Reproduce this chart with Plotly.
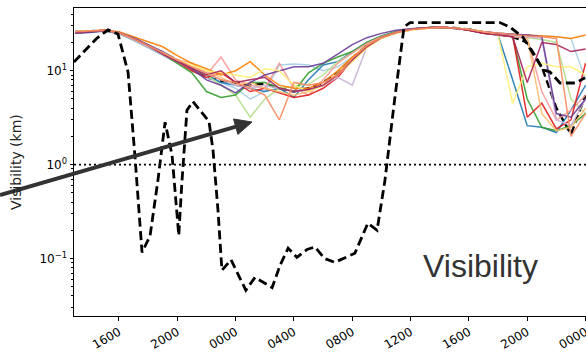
import plotly.graph_objects as go

# ---------------- data ----------------
hours = list(range(1, 37))  # hours since 12:00 on day 1

tick_hours = [4, 8, 12, 16, 20, 24, 28, 32, 36]
tick_labels = ['1600', '2000', '0000', '0400', '0800', '1200', '1600', '2000', '0000']

obs_hours = [0.91, 1.7, 2.5, 3.25, 3.93, 4.62, 5.1, 5.58, 6.13, 6.67, 7.16, 7.64, 8.1, 8.3,
             8.66, 9.07, 9.76, 10.17, 10.45, 10.79, 11.06, 11.68, 12.7, 13.33, 14.5, 15.05,
             15.6, 16.2, 16.9, 17.44, 18.1, 18.8, 20.18, 21.07, 21.7, 22.24, 22.9, 23.55,
             23.96, 30.13, 30.8, 31.7, 33.1, 33.56, 34.25, 35.3, 35.96]
obs_vis = [12.4, 16.6, 22.3, 27.2, 24.6, 9.7, 1.2, 0.116, 0.174, 0.68, 2.83, 1.26, 0.176, 0.6,
           3.8, 4.7, 3.53, 2.9, 1.42, 0.326, 0.075, 0.097, 0.046, 0.063, 0.049, 0.085,
           0.129, 0.103, 0.125, 0.133, 0.1, 0.091, 0.114, 0.238, 0.2, 0.68, 4.87, 29.2,
           32.6, 32.6, 29.2, 22.8, 10.2, 9.7, 7.4, 7.4, 8.4]

ens_mean = [25.8, 26.2, 26.8, 25.3, 22, 18.5, 15.5, 13, 10.5, 8.5, 7.8, 7.5, 7, 7.3, 6.5, 6,
            6.5, 7.5, 9.5, 13.5, 18.5, 22.5, 25.5, 27.5, 28.5, 29, 28.5, 27.5, 25.5, 24.5,
            23, 20, 11, 4, 2.1, 5.5]

member_light_blue = [25.5, 26, 26.5, 24.5, 21, 17.5, 14.5, 12, 10, 8.5, 7.5, 6.5, 5.0, 6.0, 11.5, 11.8,
                     11.5, 10, 11, 14, 18.5, 22.5, 25.5, 27.5, 28.5, 29, 28.5, 27.5, 26, 25,
                     24.5, 24, 23.5, 23, 22, 8]
member_blue = [25, 26, 27, 25, 21.5, 18, 15, 12.5, 10.5, 9, 7.5, 7, 6.5, 6, 6.5, 5.2,
               8, 11.5, 12.5, 16, 20, 23.5, 26, 27.5, 28.5, 29, 28.5, 27, 25, 24,
               8, 2.6, 2.5, 2.2, 3.8, 7]
member_light_green = [25.5, 26, 26.5, 25, 21.5, 18, 15, 12.5, 10.5, 9, 7, 5.5, 3.2, 5, 6.5, 6.8,
                      7.2, 9, 12.5, 15.5, 19.5, 23, 26, 28, 28.5, 29, 28.5, 27.5, 25.5, 24.5,
                      23.5, 22.5, 21.5, 20, 5, 3.5]
member_green = [25, 26, 26.5, 25, 21.5, 18, 15, 12, 9.5, 6.0, 5.2, 5.5, 7.5, 7.5, 6.5, 6.0,
                9.5, 12, 14, 16, 20, 23.5, 26, 27.5, 28.5, 29, 28.5, 27.5, 26, 24.5,
                23, 5, 2.5, 2.3, 2.6, 3.5]
member_pink = [26, 26.5, 27, 25, 21.5, 18, 15.5, 13, 12, 9, 14, 8, 7, 6.5, 12, 6.5,
               5.5, 8, 12, 15.5, 19.5, 23, 25.5, 27.5, 28.5, 29, 28.5, 27, 25, 24,
               23, 22, 6, 3.0, 3.8, 5.5]
member_red = [25.5, 26, 27, 25.5, 22, 18.5, 15, 12.5, 10, 8.5, 9.5, 7.5, 6, 6.5, 5.8, 5.2,
              5.5, 6.5, 8.5, 13, 18, 22.5, 25.5, 27.5, 28.5, 29, 28.5, 27, 25, 24.5,
              23.5, 3.2, 4.5, 2.4, 3, 12]
member_light_orange = [26, 26.5, 27, 25.5, 22, 18.5, 15.5, 13, 11, 10, 8.5, 7, 7.5, 6.5, 6, 5.5,
                       6, 7, 9.5, 13.5, 18.5, 22.5, 25.5, 27.5, 28.5, 29, 28.5, 27.5, 26, 25,
                       24, 23, 3.5, 2.3, 2.5, 4]
member_orange = [26, 26.5, 27, 26, 23, 20, 18, 14.5, 12, 10.5, 9, 10, 12.5, 9, 7, 6.5,
                 6.5, 7.5, 10, 14, 18.5, 22.5, 25.5, 27.5, 28.5, 29, 28.5, 27.5, 26, 25,
                 24.5, 24, 23.5, 23, 22, 24]
member_light_purple = [25.5, 26, 26.5, 25, 21.5, 18, 15, 12.5, 10.5, 9.5, 8, 7, 6.5, 7, 6.5, 6,
                       6.2, 7, 8.5, 7, 18, 22.5, 25.5, 27.5, 28.5, 29, 28.5, 27.5, 26, 25,
                       24, 23, 22, 3, 2.6, 5]
member_purple = [25, 25.5, 26.5, 25.5, 22.5, 19, 16, 13, 10.5, 8, 7, 5.8, 7.5, 9, 10, 11,
                 11, 12, 15, 19, 22.5, 25, 27, 28, 28.5, 29, 28.5, 27.5, 26, 25,
                 24.5, 24, 23, 3.5, 3.2, 5]
member_yellow = [26, 26.5, 27, 25.5, 22, 18.5, 15.5, 13, 11.5, 10, 9.5, 9, 8.5, 10.5, 10, 7,
                 6, 7, 9, 12.5, 17.5, 22, 25, 27, 28, 29, 28.5, 27.5, 26, 24,
                 4.5, 11, 12, 11, 11, 9]
member_maroon = [25.5, 26, 27, 25.5, 22, 18.5, 15, 12.5, 10.5, 9, 10, 7.5, 8, 8.5, 6.5, 6,
                 6.3, 7, 9, 13, 18, 22.5, 25.5, 27.5, 28.5, 29, 28.5, 27, 25, 24,
                 23, 7.5, 20, 19, 16, 17]
member_salmon = [26, 26.5, 27, 25.5, 22, 18.5, 15.5, 13, 11, 9.5, 8, 7.5, 6.5, 5.5, 3, 7.5,
                 7, 7.5, 9, 13.5, 18.5, 22.5, 25.5, 27.5, 28.5, 29, 28.5, 27.5, 26, 25,
                 24, 23.5, 23, 22, 2.0, 3.5]

members = [member_light_blue, member_blue, member_light_green, member_green, member_pink,
           member_red, member_light_orange, member_orange, member_light_purple, member_purple,
           member_yellow, member_maroon, member_salmon]
member_colors = ['#a6cee3', '#1f78b4', '#b2df8a', '#33a02c', '#fb9a99', '#e31a1c', '#fdbf6f',
                 '#ff7f00', '#cab2d6', '#6a3d9a', '#fff07a', '#a8235a', '#f98a62']

x_range = [0.914, 36.03]
y_range_log = [-1.612, 1.668]

# ---------------- figure ----------------
fig = go.Figure()

# ensemble mean drawn underneath the members
fig.add_trace(go.Scatter(x=hours, y=ens_mean, mode='lines',
                         line=dict(color='black', width=2.4, dash='8px,4px'),
                         showlegend=False, hoverinfo='skip'))

for vals, col in zip(members, member_colors):
    fig.add_trace(go.Scatter(x=hours, y=vals, mode='lines',
                             line=dict(color=col, width=1.5), opacity=0.9,
                             showlegend=False, hoverinfo='skip'))

fig.add_trace(go.Scatter(x=[x_range[0], x_range[1]], y=[1, 1], mode='lines',
                         line=dict(color='black', width=1.8, dash='2px,3px'),
                         showlegend=False, hoverinfo='skip'))

fig.add_trace(go.Scatter(x=obs_hours, y=obs_vis, mode='lines',
                         line=dict(color='black', width=2.8, dash='9px,4.5px'),
                         showlegend=False, hoverinfo='skip'))

W, H = 586, 356
ML, MR, MT, MB = 74, 0, 8, 40
PW, PH = W - ML - MR, H - MT - MB


def px(X):
    return (X - ML) / PW


def py(Y):
    return (H - MB - Y) / PH


fig.add_annotation(text='Visibility (km)', xref='paper', yref='paper',
                   x=px(16), y=py(162), textangle=-90, showarrow=False,
                   font=dict(family='DejaVu Sans', size=14, color='#222222'),
                   xanchor='center', yanchor='middle')

# arrow (annotation graphic, pixel positions)
tail = (0, 195)
base = (235.7, 126.7)
tip = (252, 122)
c1 = (237.9, 134.4)
c2 = (233.5, 119.0)
fig.add_shape(type='line', xref='paper', yref='paper',
              x0=px(tail[0]), y0=py(tail[1]), x1=px(base[0] + 2), y1=py(base[1] - 0.6),
              line=dict(color='#333333', width=4), layer='above')
fig.add_shape(type='path', xref='paper', yref='paper',
              path=f"M {px(tip[0])} {py(tip[1])} L {px(c1[0])} {py(c1[1])} L {px(c2[0])} {py(c2[1])} Z",
              fillcolor='#333333', line=dict(color='#333333', width=1), layer='above')

fig.add_annotation(text='Visibility', xref='paper', yref='paper',
                   x=px(480), y=py(266), showarrow=False,
                   font=dict(family='Liberation Sans', size=32, color='#333333'),
                   xanchor='center', yanchor='middle')

fig.update_layout(
    width=W, height=H,
    margin=dict(l=ML, r=MR, t=MT, b=MB, autoexpand=False),
    plot_bgcolor='white', paper_bgcolor='white',
    font=dict(family='DejaVu Sans', size=12, color='black'),
    showlegend=False,
)

fig.update_xaxes(range=x_range, tickmode='array', tickvals=tick_hours, ticktext=tick_labels,
                 tickangle=-30, ticks='outside', ticklen=3.5, tickcolor='black',
                 ticklabeloverflow='allow', automargin=False,
                 showline=True, linecolor='black', linewidth=1, mirror=True,
                 showgrid=False, zeroline=False,
                 tickfont=dict(family='DejaVu Sans', size=12, color='black'))

minor_vals = [0.03, 0.04, 0.05, 0.06, 0.07, 0.08, 0.09,
              0.2, 0.3, 0.4, 0.5, 0.6, 0.7, 0.8, 0.9,
              2, 3, 4, 5, 6, 7, 8, 9, 20, 30, 40]
fig.update_yaxes(type='log', range=y_range_log, tickmode='array', tickvals=[0.1, 1, 10],
                 ticktext=['10<sup>\u22121</sup>', '10<sup>0</sup>', '10<sup>1</sup>'],
                 ticks='outside', ticklen=3.5, tickcolor='black', automargin=False,
                 minor=dict(tickmode='array', tickvals=minor_vals, ticks='outside',
                            ticklen=2, tickcolor='black', showgrid=False),
                 showline=True, linecolor='black', linewidth=1, mirror=True,
                 showgrid=False, zeroline=False,
                 tickfont=dict(family='DejaVu Sans', size=12, color='black'))

fig.write_html('out.html')
